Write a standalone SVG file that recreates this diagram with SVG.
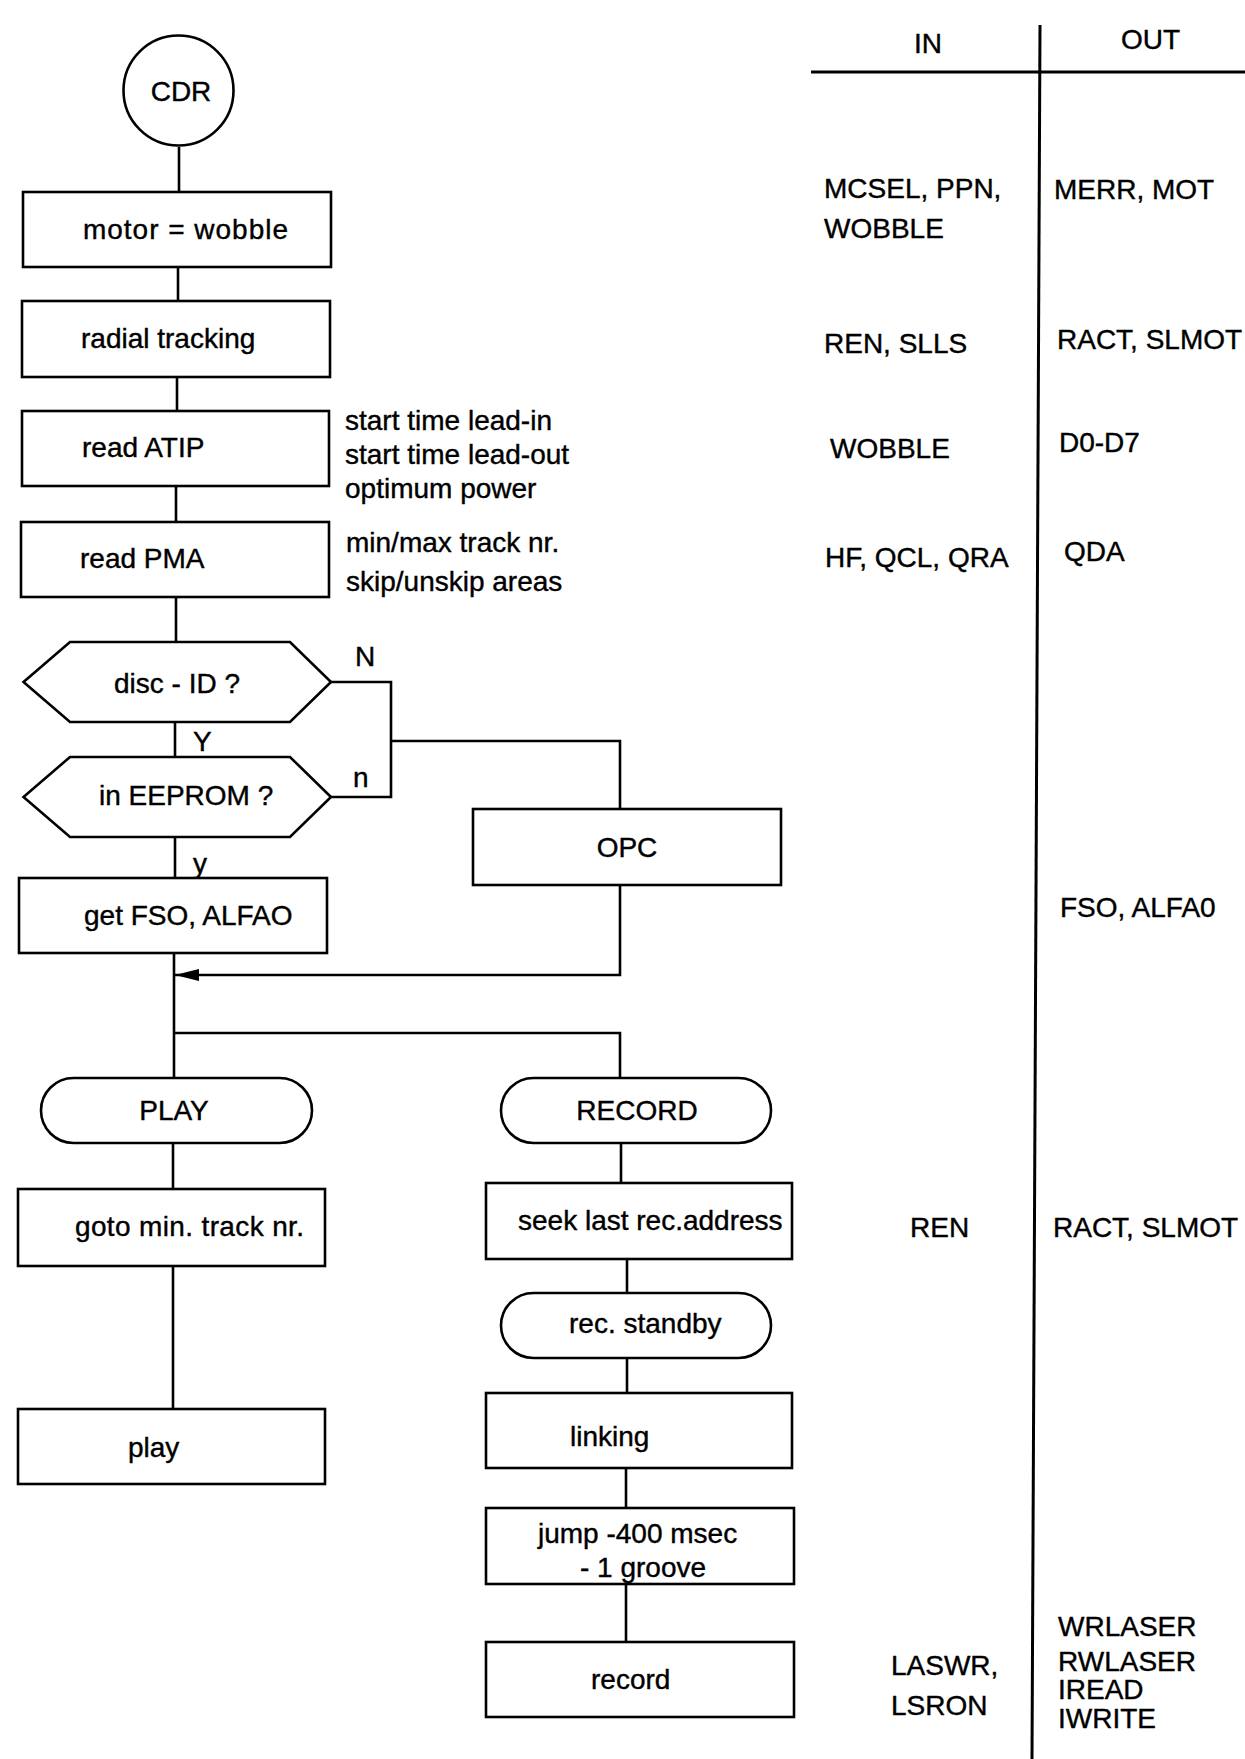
<svg xmlns="http://www.w3.org/2000/svg" width="1245" height="1759" viewBox="0 0 1245 1759">
<style>
text{font-family:"Liberation Sans",Arial,sans-serif;font-size:28px;fill:#000;stroke:#000;stroke-width:0.4}
.b{fill:#fff;stroke:#000;stroke-width:2.6}
.c{fill:none;stroke:#000;stroke-width:2.6}
.t{fill:none;stroke:#000;stroke-width:3}
</style>
<defs>
<marker id="ah" markerWidth="24" markerHeight="12" refX="24" refY="6" orient="auto" markerUnits="userSpaceOnUse">
<path d="M0,0 L24,6 L0,12 Z" fill="#000"/>
</marker>
</defs>
<rect width="1245" height="1759" fill="#fff"/>
<g id="connectors">
<line class="c" x1="179" y1="147" x2="179" y2="192"/>
<line class="c" x1="178" y1="267" x2="178" y2="301"/>
<line class="c" x1="177" y1="377" x2="177" y2="411"/>
<line class="c" x1="176" y1="486" x2="176" y2="522"/>
<line class="c" x1="176" y1="597" x2="176" y2="642"/>
<line class="c" x1="175" y1="722" x2="175" y2="757"/>
<line class="c" x1="175" y1="837" x2="175" y2="878"/>
<polyline class="c" points="331,682 391,682 391,797 331,797"/>
<polyline class="c" points="391,741 620,741 620,809"/>
<line class="c" x1="174" y1="953" x2="174" y2="1078"/>
<polyline class="c" points="620,885 620,975 175,975" marker-end="url(#ah)"/>
<polyline class="c" points="174,1033 620,1033 620,1078"/>
<line class="c" x1="173" y1="1143" x2="173" y2="1189"/>
<line class="c" x1="173" y1="1266" x2="173" y2="1409"/>
<line class="c" x1="621" y1="1143" x2="621" y2="1183"/>
<line class="c" x1="627" y1="1259" x2="627" y2="1293"/>
<line class="c" x1="627" y1="1358" x2="627" y2="1393"/>
<line class="c" x1="626" y1="1468" x2="626" y2="1508"/>
<line class="c" x1="626" y1="1584" x2="626" y2="1642"/>
</g>
<g id="cdr"><circle class="b" cx="178.5" cy="90.5" r="55"/><text x="181" y="101" text-anchor="middle">CDR</text></g>
<g id="motor"><rect class="b" x="23" y="192" width="308" height="75"/><text x="83" y="239" textLength="205" lengthAdjust="spacing">motor = wobble</text></g>
<g id="radial"><rect class="b" x="22" y="301" width="308" height="76"/><text x="81" y="348">radial tracking</text></g>
<g id="atip"><rect class="b" x="22" y="411" width="307" height="75"/><text x="82" y="457">read ATIP</text></g>
<g id="atip-notes"><text x="345" y="430">start time lead-in</text><text x="345" y="464">start time lead-out</text><text x="345" y="498">optimum power</text></g>
<g id="pma"><rect class="b" x="21" y="522" width="308" height="75"/><text x="80" y="568">read PMA</text></g>
<g id="pma-notes"><text x="346" y="552">min/max track nr.</text><text x="346" y="591">skip/unskip areas</text></g>
<g id="discid"><polygon class="b" points="23.5,682 70,642 290,642 331,682 290,722 70,722"/><text x="114" y="693">disc - ID ?</text></g>
<g id="eeprom"><polygon class="b" points="23.5,797 70,757 290,757 331,797 290,837 70,837"/><text x="99" y="805">in EEPROM ?</text></g>
<g id="labels"><text x="355" y="666">N</text><text x="193" y="751">Y</text><text x="353" y="787">n</text><text x="193" y="873">y</text></g>
<g id="opc"><rect class="b" x="473" y="809" width="308" height="76"/><text x="627" y="857" text-anchor="middle">OPC</text></g>
<g id="getfso"><rect class="b" x="19" y="878" width="308" height="75"/><text x="84" y="925">get FSO, ALFAO</text></g>
<g id="play-term"><rect class="b" x="41" y="1078" width="271" height="65" rx="32.5"/><text x="174" y="1120" text-anchor="middle">PLAY</text></g>
<g id="record-term"><rect class="b" x="501" y="1078" width="270" height="65" rx="32.5"/><text x="637" y="1120" text-anchor="middle">RECORD</text></g>
<g id="goto"><rect class="b" x="18" y="1189" width="307" height="77"/><text x="75" y="1236" textLength="229" lengthAdjust="spacing">goto min. track nr.</text></g>
<g id="play"><rect class="b" x="18" y="1409" width="307" height="75"/><text x="128" y="1457">play</text></g>
<g id="seek"><rect class="b" x="486" y="1183" width="306" height="76"/><text x="518" y="1230">seek last rec.address</text></g>
<g id="standby"><rect class="b" x="501" y="1293" width="270" height="65" rx="32.5"/><text x="569" y="1333">rec. standby</text></g>
<g id="linking"><rect class="b" x="486" y="1393" width="306" height="75"/><text x="570" y="1446">linking</text></g>
<g id="jump"><rect class="b" x="486" y="1508" width="308" height="76"/><text x="538" y="1543">jump -400 msec</text><text x="580" y="1577">- 1 groove</text></g>
<g id="record"><rect class="b" x="486" y="1642" width="308" height="75"/><text x="591" y="1689">record</text></g>
<g id="io-table">
<line class="t" x1="811" y1="72" x2="1245" y2="72"/>
<line class="t" x1="1040" y1="25" x2="1032" y2="1759"/>
<text x="914" y="53">IN</text><text x="1121" y="49">OUT</text>
<text x="824" y="198">MCSEL, PPN,</text><text x="824" y="238">WOBBLE</text>
<text x="1054" y="199">MERR, MOT</text>
<text x="824" y="353">REN, SLLS</text><text x="1057" y="349">RACT, SLMOT</text>
<text x="830" y="458">WOBBLE</text><text x="1059" y="452">D0-D7</text>
<text x="825" y="567">HF, QCL, QRA</text><text x="1064" y="561">QDA</text>
<text x="1060" y="917">FSO, ALFA0</text>
<text x="910" y="1237">REN</text><text x="1053" y="1237">RACT, SLMOT</text>
<text x="891" y="1675">LASWR,</text><text x="891" y="1715">LSRON</text>
<text x="1058" y="1636">WRLASER</text><text x="1058" y="1671">RWLASER</text><text x="1058" y="1699">IREAD</text><text x="1058" y="1728">IWRITE</text>
</g>
</svg>
